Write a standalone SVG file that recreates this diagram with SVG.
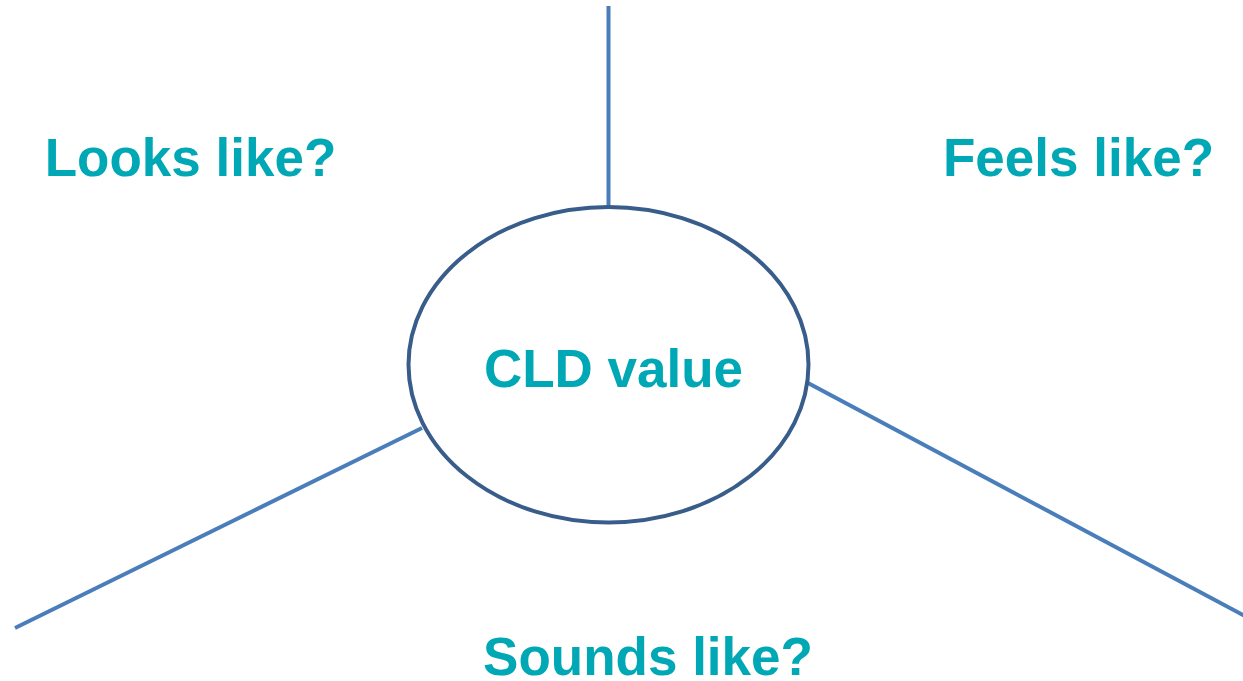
<svg xmlns="http://www.w3.org/2000/svg" width="1243" height="681" viewBox="0 0 1243 681">
<style>
.lbl{font-family:"Liberation Sans",Arial,sans-serif;font-weight:bold;font-size:53px;fill:#00a8b5;text-anchor:middle}
.conn{stroke:#4a7ebb;stroke-width:4;fill:none}
</style>
<rect width="1243" height="681" fill="#ffffff"/>
<g id="connectors">
<line class="conn" x1="608.5" y1="6" x2="608.5" y2="207"/>
<line class="conn" x1="422" y1="428" x2="15" y2="628"/>
<line class="conn" x1="808" y1="383" x2="1245" y2="616"/>
</g>
<g id="center">
<ellipse cx="608.5" cy="364.75" rx="200" ry="157.75" fill="#ffffff" stroke="#385d8a" stroke-width="4"/>
<text class="lbl" x="613.5" y="387">CLD value</text>
</g>
<g id="looks"><text class="lbl" x="190.5" y="176">Looks like?</text></g>
<g id="feels"><text class="lbl" x="1078.5" y="176">Feels like?</text></g>
<g id="sounds"><text class="lbl" x="648" y="675">Sounds like?</text></g>
</svg>
